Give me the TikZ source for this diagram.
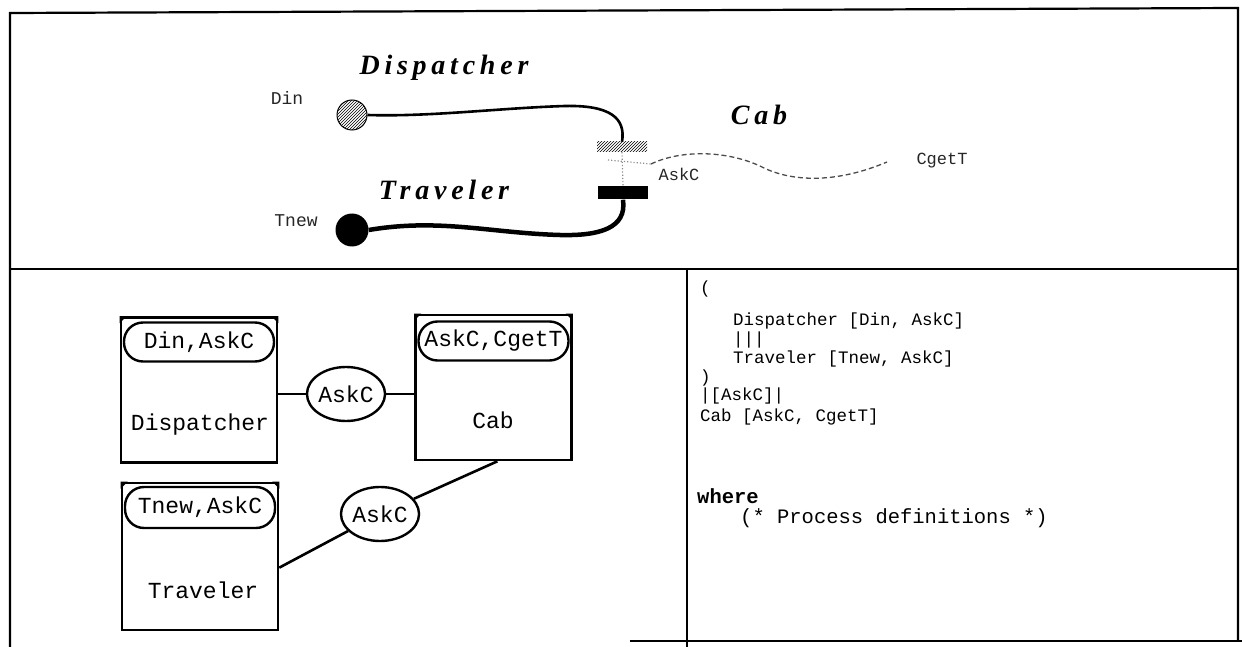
\documentclass[tikz,border=0pt]{standalone}
\usepackage{fontspec}
\setmainfont{Liberation Serif}
\newfontfamily\codefont{Liberation Mono}
\newfontfamily\titlefont[LetterSpace=17]{Liberation Serif}
\usetikzlibrary{patterns,shapes.geometric}
\tikzset{
  frameline/.style={line width=2.2pt, black},
  ttl/.style={font=\titlefont\bfseries\itshape\fontsize{28}{32}\selectfont, anchor=base, inner sep=0},
  gate/.style={font=\codefont\fontsize{18}{20}\selectfont, text=black!85, inner sep=0},
  gatesm/.style={font=\codefont\fontsize{17}{20}\selectfont, text=black!85, inner sep=0},
  procbox/.style={draw, line width=2.6pt, minimum width=156pt, minimum height=145pt, inner sep=0},
  pill/.style={draw, line width=2.4pt, rounded corners=19pt, minimum width=150pt, minimum height=39pt, inner sep=0, font=\codefont\fontsize{23}{26}\selectfont},
  boxlabel/.style={font=\codefont\fontsize{23}{26}\selectfont, inner sep=0},
  chan/.style={draw, ellipse, line width=2.4pt, minimum width=74pt, minimum height=54pt, inner sep=0, font=\codefont\fontsize{23}{26}\selectfont},
  conn/.style={line width=2.6pt},
  code/.style={font=\codefont\fontsize{17.5}{20}\selectfont, anchor=base west, inner sep=0},
  codebig/.style={font=\codefont\fontsize{20.5}{24}\selectfont, anchor=base west, inner sep=0},
  corner/.style={fill=black},
}
\begin{document}
\begin{tikzpicture}[x=1pt,y=-1pt]
\useasboundingbox (0,0) rectangle (1242,647);
% frame
\draw[frameline] (10,647) -- (10,13) -- (1238,8) -- (1238,641);
\draw[frameline] (630,641) -- (1242,641);
\draw[frameline] (10,269) -- (1238,269);
\draw[frameline] (687,269) -- (687,647);

% ---------- top panel ----------
\node[ttl] (tdisp) at (444,75) {Dispatcher};
\node[ttl] (ttrav) at (444,200) {Traveler};
\node[ttl] (tcab) at (759,125) {Cab};

\node[gate] (din) at (287,98) {Din};
\node[gate] (tnew) at (296,221) {Tnew};
\node[gatesm] (askc) at (679,174) {AskC};
\node[gatesm] (cgett) at (942,161) {CgetT};

\node[circle, draw, line width=1pt, minimum size=30pt, inner sep=0, pattern=north east lines] (dcirc) at (352,115) {};
\node[circle, fill=black, minimum size=33pt, inner sep=0] (tcirc) at (352,230) {};
\node[rectangle, minimum width=50pt, minimum height=10pt, inner sep=0, pattern=north east lines] (hbar) at (622,147) {};
\node[rectangle, fill=black, minimum width=50pt, minimum height=13pt, inner sep=0] (bbar) at (623,193) {};

\draw[line width=2.6pt] (dcirc.east) .. controls (430,117) and (500,108) .. (565,106)
   .. controls (610,105) and (626,118) .. (hbar.north);
\draw[line width=4.5pt] (bbar.south) .. controls (627,228) and (600,236) .. (560,235)
   .. controls (490,233) and (440,218) .. (tcirc.east);
\coordinate (cstart) at (651,164);
\coordinate (cend) at (887,162);
\draw[black!70, line width=1.3pt, dash pattern=on 5pt off 3pt]
   (cstart) .. controls (680,150) and (725,150) .. (760,166)
   .. controls (790,182) and (835,184) .. (cend);
\draw[black!45, line width=1.2pt, dotted] (hbar.south) -- (bbar.north);
\draw[black!45, line width=1.2pt, dotted] (608,160) -- (cstart);

% ---------- bottom-left panel ----------
\node[procbox] (dbox) at (199,390) {};
\node[pill] (dpill) at (199,342) {Din,AskC};
\node[boxlabel] (dlab) at (200,425) {Dispatcher};

\node[procbox] (cbox) at (493.5,387.5) {};
\node[pill] (cpill) at (493.5,341) {AskC,CgetT};
\node[boxlabel] (clab) at (493,420) {Cab};

\node[procbox, minimum height=147pt] (tbox) at (200,556.5) {};
\node[pill, minimum height=41pt] (tpill) at (200,507.5) {Tnew,AskC};
\node[boxlabel] (tlab) at (203,590) {Traveler};

\foreach \b in {dbox,cbox,tbox}{
  \fill[corner] (\b.north west) -- ++(7,0) -- ++(-7,7) -- cycle;
  \fill[corner] (\b.north east) -- ++(-7,0) -- ++(7,7) -- cycle;
}

\node[chan] (e1) at (346,394) {AskC};
\node[chan] (e2) at (380,514) {AskC};

\draw[conn] (dbox.east |- e1) -- (e1.west);
\draw[conn] (e1.east) -- (cbox.west |- e1.east);
\draw[conn] (tbox.-8) -- (e2);
\draw[conn] (e2) -- (cbox.-87);

% ---------- bottom-right panel ----------
\node[code] (c1) at (700,293) {(};
\node[code] (c2) at (733,325) {Dispatcher [Din, AskC]};
\node[code] (c3) at (733,344) {|||};
\node[code] (c4) at (733,363) {Traveler [Tnew, AskC]};
\node[code] (c5) at (700,382) {)};
\node[code] (c6) at (700,400) {|[AskC]|};
\node[code] (c7) at (700,421) {Cab [AskC, CgetT]};
\node[codebig, font=\codefont\bfseries\fontsize{20.5}{24}\selectfont] (c8) at (697,503) {where};
\node[codebig] (c9) at (740,523) {(* Process definitions *)};
\end{tikzpicture}
\end{document}
